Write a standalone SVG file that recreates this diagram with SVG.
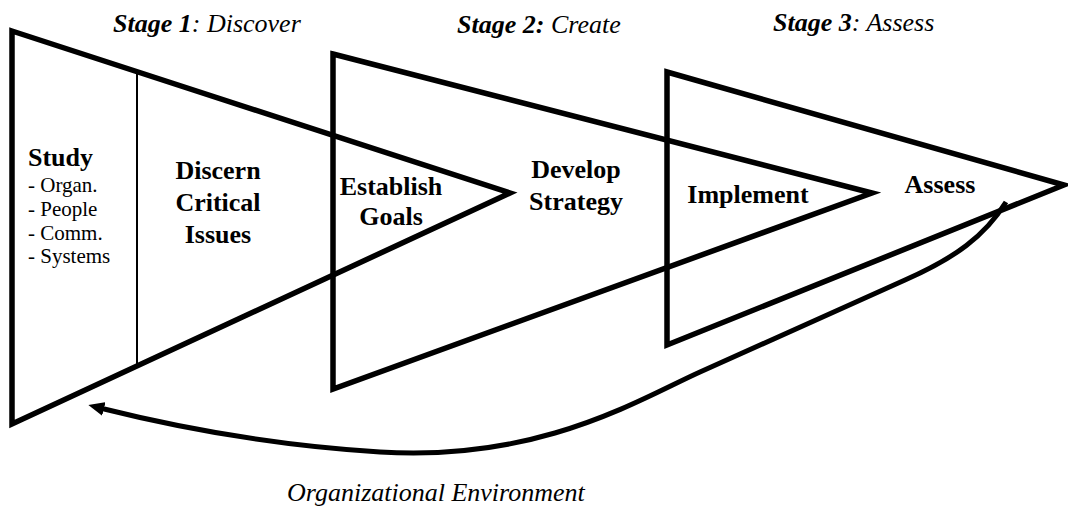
<svg xmlns="http://www.w3.org/2000/svg" width="1068" height="510" viewBox="0 0 1068 510">
<defs>
<style>
.tri{fill:none;stroke:#000;stroke-width:5.5;stroke-linejoin:miter;stroke-miterlimit:12}
.div{stroke:#000;stroke-width:2}
text{font-family:'Liberation Serif','DejaVu Serif',serif;fill:#000}
.lbl{font-size:26px;font-weight:bold}
.sub{font-size:21px}
.ttl{font-size:26px;font-style:italic}
.b{font-weight:bold}
.conn{fill:none;stroke:#000;stroke-width:5}
</style>
<marker id="ah" viewBox="0 0 16 14" markerWidth="16" markerHeight="14" refX="4" refY="7" orient="auto" markerUnits="userSpaceOnUse">
<path d="M0,0 L16,7 L0,14 z" fill="#000"/>
</marker>
</defs>
<rect width="1068" height="510" fill="#fff"/>
<g id="titles">
<text class="ttl" x="113" y="32"><tspan class="b">Stage 1</tspan>: Discover</text>
<text class="ttl" x="457" y="33"><tspan class="b">Stage 2:</tspan> Create</text>
<text class="ttl" x="773" y="31"><tspan class="b">Stage 3</tspan>: Assess</text>
</g>
<g id="stage1">
<polygon class="tri" points="12,31 510,193 12,424"/>
<line class="div" x1="137" y1="72" x2="137" y2="365"/>
<text class="lbl" x="28" y="166">Study</text>
<text class="sub" x="28" y="192">- Organ.</text>
<text class="sub" x="28" y="216">- People</text>
<text class="sub" x="28" y="240">- Comm.</text>
<text class="sub" x="28" y="263">- Systems</text>
<text class="lbl" text-anchor="middle" x="218" y="179">Discern</text>
<text class="lbl" text-anchor="middle" x="218" y="211">Critical</text>
<text class="lbl" text-anchor="middle" x="218" y="243">Issues</text>
</g>
<g id="stage2">
<polygon class="tri" points="333,54 872,193 333,389"/>
<text class="lbl" text-anchor="middle" x="391" y="195">Establish</text>
<text class="lbl" text-anchor="middle" x="391" y="225">Goals</text>
<text class="lbl" text-anchor="middle" x="576" y="178">Develop</text>
<text class="lbl" text-anchor="middle" x="576" y="210">Strategy</text>
</g>
<g id="stage3">
<polygon class="tri" points="667,72 1064,185 667,345"/>
<text class="lbl" text-anchor="middle" x="748" y="203">Implement</text>
<text class="lbl" text-anchor="middle" x="940" y="193">Assess</text>
</g>
<g id="connectors">
<path class="conn" marker-end="url(#ah)" d="M1006,202 C985,236 955,258 905,280 C830,313 760,345 700,372 C640,399 540,462 380,452 C280,446 180,428 100,408"/>
</g>
<g id="environment">
<text class="ttl" x="287" y="501">Organizational Environment</text>
</g>
</svg>
